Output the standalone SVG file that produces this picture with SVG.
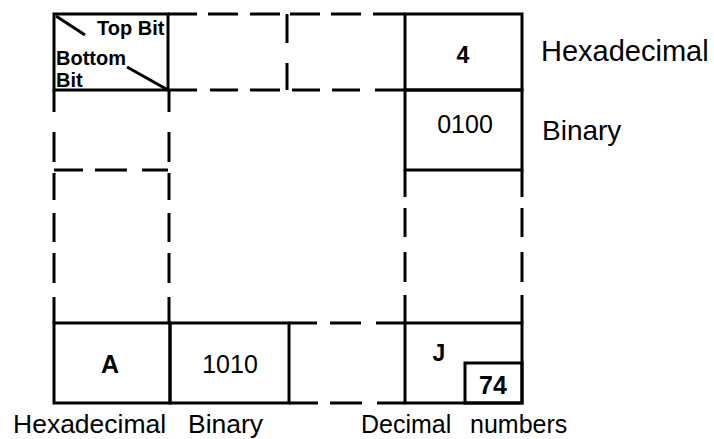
<svg xmlns="http://www.w3.org/2000/svg" width="714" height="439" viewBox="0 0 714 439">
  <style>
    .ln { stroke: #000; stroke-width: 3; fill: none; stroke-linecap: butt; }
    .t { font-family: "Liberation Sans", Arial, sans-serif; fill: #000; }
    .b { font-weight: bold; }
    .c { text-anchor: middle; }
  </style>
  <rect width="714" height="439" fill="#fff"/>

  <!-- top-left key cell -->
  <g id="key-cell">
    <rect class="ln" x="54" y="14" width="114" height="76"/>
    <line class="ln" x1="56" y1="16" x2="85" y2="35"/>
    <line class="ln" x1="127" y1="67" x2="168" y2="90"/>
    <text class="t b" x="97" y="35" font-size="20">Top Bit</text>
    <text class="t b" x="56" y="65" font-size="20">Bottom</text>
    <text class="t b" x="56" y="87" font-size="20">Bit</text>
  </g>

  <!-- top-right: hexadecimal / binary cells -->
  <g id="hex-cell">
    <rect class="ln" x="405" y="14" width="117" height="76"/>
    <text class="t b c" x="463" y="63" font-size="23">4</text>
  </g>
  <g id="bin-cell">
    <rect class="ln" x="405" y="90" width="117" height="80"/>
    <text class="t c" x="465" y="133" font-size="25">0100</text>
  </g>

  <!-- bottom row cells -->
  <g id="cell-a">
    <rect class="ln" x="54" y="323" width="116" height="80"/>
    <text class="t b c" x="110" y="373" font-size="25">A</text>
  </g>
  <g id="cell-1010">
    <rect class="ln" x="170" y="323" width="119" height="80"/>
    <text class="t c" x="230" y="373" font-size="25">1010</text>
  </g>
  <g id="cell-j">
    <rect class="ln" x="405" y="323" width="117" height="80"/>
    <text class="t b c" x="439" y="361" font-size="23">J</text>
  </g>
  <g id="cell-74">
    <rect class="ln" x="465" y="363" width="57" height="40"/>
    <text class="t b c" x="493" y="394" font-size="25">74</text>
  </g>

  <!-- grid connectors (solid runs and dashes) -->
  <g id="connectors" class="ln">
    <!-- top edge, dashed -->
    <path d="M168 14H197M208 14H238M250 14H280M290 14H320M331 14H361M373 14H405"/>
    <!-- dashed divider between the two top cells -->
    <path d="M287 14V43M287 63V90"/>
    <!-- row divider y=90, dashed -->
    <path d="M168 90H197M210 90H238M250 90H280M292 90H320M332 90H360M375 90H405"/>
    <!-- left column, dashed -->
    <path d="M54 90V112M54 132V162M54 173V200M54 213V242M54 253V283M54 297V323"/>
    <path d="M169 90V112M169 132V162M169 173V200M169 213V242M169 253V283M169 297V323"/>
    <path d="M54 170H83M95 170H127M142 170H168"/>
    <!-- right column, dashed -->
    <path d="M405 170V197M405 208V237M405 252V282M405 295V323"/>
    <path d="M522 170V197M522 208V237M522 252V282M522 295V323"/>
    <!-- bottom row gap -->
    <path d="M289 323H317M330 323H361M376 323H405"/>
    <path d="M289 403H318M330 403H362M377 403H405"/>
  </g>

  <!-- axis labels -->
  <g id="labels">
    <text class="t" x="541" y="61" font-size="29">Hexadecimal</text>
    <text class="t" x="542" y="140" font-size="28">Binary</text>
    <text class="t" x="13" y="433" font-size="26.5">Hexadecimal</text>
    <text class="t" x="188" y="433" font-size="26.5">Binary</text>
    <text class="t" x="361" y="433" font-size="25">Decimal</text>
    <text class="t" x="470" y="433" font-size="25">numbers</text>
  </g>
</svg>
